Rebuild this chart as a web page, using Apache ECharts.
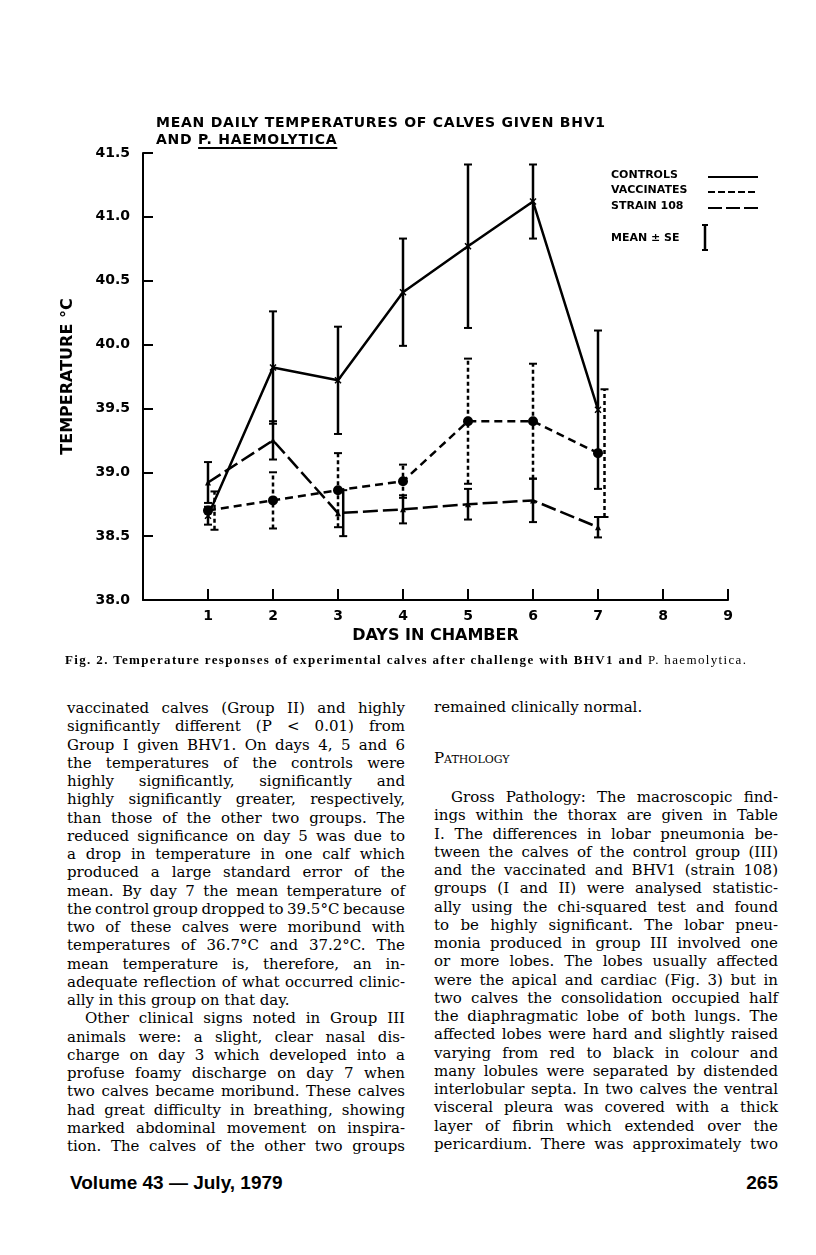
<!DOCTYPE html>
<html>
<head>
<meta charset="utf-8">
<script src="https://cdn.jsdelivr.net/npm/echarts@6/dist/echarts.min.js"></script>
<style>
  body { margin: 0; background: #fff; }
  #page { position: relative; width: 816px; height: 1255px; overflow: hidden; background: #fff; color: #000; }
  #chart { position: absolute; left: 0; top: 0; width: 816px; height: 690px; }
  .title { position: absolute; left: 156px; font: bold 14px "DejaVu Sans"; white-space: nowrap; line-height: 17px; }
  .title u { text-decoration-thickness: 1.5px; text-underline-offset: 3px; }
  .caption { position: absolute; left: 65px; top: 652px; font: bold 13px "Liberation Serif"; white-space: nowrap; line-height: 16px; }
  .caption span { font-weight: normal; }
  .ln { position: absolute; font: 15px "DejaVu Serif"; white-space: nowrap; line-height: 18px; height: 18px; }
  .sc { font-variant: small-caps; }
  .foot { position: absolute; top: 1171px; font: bold 19px "Liberation Sans"; white-space: nowrap; line-height: 24px; }
</style>
</head>
<body>
<div id="page">
  <div id="chart"></div>
  <div class="title" id="t1" style="top:114px">MEAN DAILY TEMPERATURES OF CALVES GIVEN BHV1</div>
  <div class="title" id="t2" style="top:131px">AND <u>P. HAEMOLYTICA</u></div>
  <div class="caption" id="cap">Fig. 2. Temperature responses of experimental calves after challenge with BHV1 and <span>P. haemolytica.</span></div>
  <div class="foot" style="left:70px">Volume 43 — July, 1979</div>
  <div class="foot" style="right:38px">265</div>
</div>
<script>
// days in chamber
const days = [1, 2, 3, 4, 5, 6, 7];

// mean temperature (°C) and standard error
const controlsMean = [38.66, 39.82, 39.72, 40.41, 40.77, 41.12, 39.49];
const controlsSE   = [0.07, 0.44, 0.42, 0.42, 0.64, 0.29, 0.62];
const vaccMean     = [38.70, 38.78, 38.86, 38.93, 39.40, 39.40, 39.15];
const vaccSE       = [0.15, 0.22, 0.29, 0.13, 0.49, 0.45, 0.50];
const strainMean   = [38.92, 39.25, 38.68, 38.71, 38.75, 38.78, 38.57];
const strainSE     = [0.16, 0.15, 0.18, 0.11, 0.12, 0.17, 0.08];

// error bars drawn slightly to the right of the day on the original (days)
const controlsShift = [0, 0, 0, 0, 0, 0, 0];
const vaccShift     = [0.1, 0, 0, 0, 0, 0, 0.1];
const strainShift   = [0, 0, 0.08, 0, 0, 0, 0];

const FONT = 'DejaVu Sans';

function meanSeries(name, mean, dash, symbol, size, extra) {
  return Object.assign({
    name: name,
    type: 'line',
    data: days.map((d, i) => [d, mean[i]]),
    symbol: symbol,
    symbolSize: size,
    lineStyle: { color: '#000', width: 2.5, type: dash },
    itemStyle: { color: '#000' },
    z: 3
  }, extra || {});
}

function errSeries(name, mean, se, shift, dash) {
  return {
    name: name,
    type: 'custom',
    data: days.map((d, i) => [d + shift[i], mean[i] - se[i], mean[i] + se[i]]),
    encode: { x: 0, y: [1, 2] },
    z: 2,
    renderItem: function (params, api) {
      const x = api.value(0);
      const lo = api.coord([x, api.value(1)]);
      const hi = api.coord([x, api.value(2)]);
      const c = 4;
      const st = { stroke: '#000', lineWidth: 2.5, lineDash: dash };
      const cap = { stroke: '#000', lineWidth: 2 };
      return {
        type: 'group',
        children: [
          { type: 'line', shape: { x1: lo[0], y1: lo[1], x2: hi[0], y2: hi[1] }, style: st },
          { type: 'line', shape: { x1: lo[0] - c, y1: lo[1], x2: lo[0] + c, y2: lo[1] }, style: cap },
          { type: 'line', shape: { x1: hi[0] - c, y1: hi[1], x2: hi[0] + c, y2: hi[1] }, style: cap }
        ]
      };
    }
  };
}

const txt = { fontFamily: FONT, fontWeight: 'bold', color: '#000' };

const legendFont = 'bold 11px "DejaVu Sans"';
function legText(text, y) {
  return { type: 'text', left: 611, top: y - 7, style: { text: text, font: legendFont, fill: '#000' } };
}
function legLine(y, dash) {
  return { type: 'line', shape: { x1: 708, y1: y, x2: 758, y2: y }, style: { stroke: '#000', lineWidth: 2, lineDash: dash } };
}

const chart = echarts.init(document.getElementById('chart'));
chart.setOption({
  animation: false,
  backgroundColor: 'transparent',
  grid: { left: 143, top: 153, width: 585, height: 447 },
  xAxis: {
    type: 'value', min: 0, max: 9, interval: 1,
    axisLine: { show: true, onZero: false, lineStyle: { color: '#000', width: 2 } },
    axisTick: { show: true, inside: true, length: 11, lineStyle: { color: '#000', width: 2 } },
    splitLine: { show: false },
    axisLabel: Object.assign({ fontSize: 14, margin: 9, formatter: v => v === 0 ? '' : String(v) }, txt),
    name: 'DAYS IN CHAMBER', nameLocation: 'middle', nameGap: 27,
    nameTextStyle: Object.assign({ fontSize: 16 }, txt)
  },
  yAxis: {
    type: 'value', min: 38, max: 41.5, interval: 0.5,
    axisLine: { show: true, onZero: false, lineStyle: { color: '#000', width: 2 } },
    axisTick: { show: true, inside: true, length: 10, lineStyle: { color: '#000', width: 2 } },
    splitLine: { show: false },
    axisLabel: Object.assign({ fontSize: 14, margin: 13, formatter: v => v.toFixed(1) }, txt),
    name: 'TEMPERATURE °C', nameLocation: 'middle', nameGap: 67, nameRotate: 90,
    nameTextStyle: Object.assign({ fontSize: 16 }, txt)
  },
  series: [
    errSeries('controls SE', controlsMean, controlsSE, controlsShift, null),
    errSeries('vaccinates SE', vaccMean, vaccSE, vaccShift, [4, 3]),
    errSeries('strain 108 SE', strainMean, strainSE, strainShift, null),
    meanSeries('CONTROLS', controlsMean, 'solid', 'path://M0,0L10,10M10,0L0,10', 6,
      { itemStyle: { color: 'none', borderColor: '#000', borderWidth: 1.5 } }),
    meanSeries('VACCINATES', vaccMean, [8, 5], 'circle', 10),
    meanSeries('STRAIN 108', strainMean, [15, 5], 'triangle', 6)
  ],
  graphic: [
    legText('CONTROLS', 177), legLine(177, null),
    legText('VACCINATES', 192), legLine(192, [7, 3]),
    legText('STRAIN 108', 208), legLine(208, [14, 4]),
    legText('MEAN ± SE', 240),
    { type: 'line', shape: { x1: 705, y1: 225, x2: 705, y2: 250 }, style: { stroke: '#000', lineWidth: 2.5 } },
    { type: 'line', shape: { x1: 702, y1: 225, x2: 708, y2: 225 }, style: { stroke: '#000', lineWidth: 2 } },
    { type: 'line', shape: { x1: 702, y1: 250, x2: 708, y2: 250 }, style: { stroke: '#000', lineWidth: 2 } }
  ]
});

// ---- page text ----
const page = document.getElementById('page');

function fitLetters(el, target) {
  const w = el.getBoundingClientRect().width;
  const n = el.textContent.length - 1;
  const ls = (target - w) / n;
  el.style.letterSpacing = ls + 'px';
  return ls;
}
const ls = fitLetters(document.getElementById('t1'), 449);
document.getElementById('t2').style.letterSpacing = ls + 'px';
fitLetters(document.getElementById('cap'), 681);

// [text, indent, justify]
const leftLines = [
  ['vaccinated calves (Group II) and highly', 0, 1],
  ['significantly different (P < 0.01) from', 0, 1],
  ['Group I given BHV1. On days 4, 5 and 6', 0, 1],
  ['the temperatures of the controls were', 0, 1],
  ['highly significantly, significantly and', 0, 1],
  ['highly significantly greater, respectively,', 0, 1],
  ['than those of the other two groups. The', 0, 1],
  ['reduced significance on day 5 was due to', 0, 1],
  ['a drop in temperature in one calf which', 0, 1],
  ['produced a large standard error of the', 0, 1],
  ['mean. By day 7 the mean temperature of', 0, 1],
  ['the control group dropped to 39.5°C because', 0, 1],
  ['two of these calves were moribund with', 0, 1],
  ['temperatures of 36.7°C and 37.2°C. The', 0, 1],
  ['mean temperature is, therefore, an in-', 0, 1],
  ['adequate reflection of what occurred clinic-', 0, 1],
  ['ally in this group on that day.', 0, 0],
  ['Other clinical signs noted in Group III', 18, 1],
  ['animals were: a slight, clear nasal dis-', 0, 1],
  ['charge on day 3 which developed into a', 0, 1],
  ['profuse foamy discharge on day 7 when', 0, 1],
  ['two calves became moribund. These calves', 0, 1],
  ['had great difficulty in breathing, showing', 0, 1],
  ['marked abdominal movement on inspira-', 0, 1],
  ['tion. The calves of the other two groups', 0, 1]
];
const rightLines = [
  ['Gross Pathology: The macroscopic find-', 17, 1],
  ['ings within the thorax are given in Table', 0, 1],
  ['I. The differences in lobar pneumonia be-', 0, 1],
  ['tween the calves of the control group (III)', 0, 1],
  ['and the vaccinated and BHV1 (strain 108)', 0, 1],
  ['groups (I and II) were analysed statistic-', 0, 1],
  ['ally using the chi-squared test and found', 0, 1],
  ['to be highly significant. The lobar pneu-', 0, 1],
  ['monia produced in group III involved one', 0, 1],
  ['or more lobes. The lobes usually affected', 0, 1],
  ['were the apical and cardiac (Fig. 3) but in', 0, 1],
  ['two calves the consolidation occupied half', 0, 1],
  ['the diaphragmatic lobe of both lungs. The', 0, 1],
  ['affected lobes were hard and slightly raised', 0, 1],
  ['varying from red to black in colour and', 0, 1],
  ['many lobules were separated by distended', 0, 1],
  ['interlobular septa. In two calves the ventral', 0, 1],
  ['visceral pleura was covered with a thick', 0, 1],
  ['layer of fibrin which extended over the', 0, 1],
  ['pericardium. There was approximately two', 0, 1]
];

function addLine(text, x, cy, width, indent, justify, cls) {
  const el = document.createElement('div');
  el.className = 'ln' + (cls ? ' ' + cls : '');
  el.textContent = text;
  el.style.left = (x + indent) + 'px';
  el.style.top = (cy - 9) + 'px';
  page.appendChild(el);
  if (justify) {
    const w = el.getBoundingClientRect().width;
    const n = (text.match(/ /g) || []).length;
    if (n) el.style.wordSpacing = ((width - indent - w) / n) + 'px';
  }
  return el;
}

const PITCH = 18.25;
leftLines.forEach((l, i) => addLine(l[0], 67, 708 + i * PITCH, 338, l[1], l[2]));
addLine('remained clinically normal.', 434, 707, 344, 0, 0);
addLine('Pathology', 434, 758, 344, 0, 0, 'sc');
rightLines.forEach((l, i) => addLine(l[0], 434, 797 + i * PITCH, 344, l[1], l[2]));
</script>
</body>
</html>
